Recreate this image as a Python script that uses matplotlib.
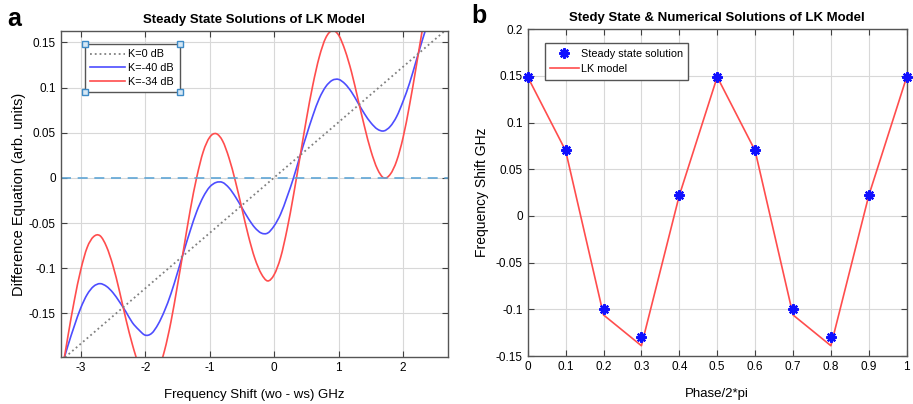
import numpy as np
import matplotlib
matplotlib.use('Agg')
import matplotlib.pyplot as plt
from matplotlib.path import Path
from matplotlib.patches import PathPatch
from matplotlib.lines import Line2D

plt.rcParams['font.family'] = ['Liberation Sans', 'DejaVu Sans']
plt.rcParams['axes.unicode_minus'] = False

# ---- panel a: values ----
shift = [-3.3, -3.2, -3.1, -3.0, -2.9, -2.8, -2.7, -2.6, -2.5, -2.4,
         -2.3, -2.2, -2.1, -2.0, -1.9, -1.8, -1.7, -1.6, -1.5, -1.4,
         -1.3, -1.2, -1.1, -1.0, -0.9, -0.8, -0.7, -0.6, -0.5, -0.4,
         -0.3, -0.2, -0.1, 0.0, 0.1, 0.2, 0.3, 0.4, 0.5, 0.6,
         0.7, 0.8, 0.9, 1.0, 1.1, 1.2, 1.3, 1.4, 1.5, 1.6,
         1.7, 1.8, 1.9, 2.0, 2.1, 2.2, 2.3, 2.4, 2.5, 2.6, 2.7]
k0_x = [-3.3, 2.7]
k0_y = [-0.202, 0.166]
k40 = [-0.210, -0.186, -0.164, -0.144, -0.129, -0.120, -0.117, -0.120, -0.127, -0.137,
       -0.148, -0.160, -0.168, -0.174, -0.172, -0.162, -0.147, -0.128, -0.105, -0.081,
       -0.058, -0.037, -0.021, -0.010, -0.005, -0.005, -0.011, -0.021, -0.033, -0.045,
       -0.055, -0.061, -0.061, -0.053, -0.040, -0.021, 0.000, 0.024, 0.047, 0.069,
       0.088, 0.101, 0.108, 0.109, 0.104, 0.095, 0.083, 0.071, 0.061, 0.054,
       0.052, 0.057, 0.068, 0.085, 0.105, 0.129, 0.153, 0.175, 0.194, 0.209, 0.218]
k34 = [-0.219, -0.176, -0.136, -0.102, -0.077, -0.065, -0.064, -0.076, -0.097, -0.125,
       -0.156, -0.184, -0.207, -0.221, -0.223, -0.213, -0.191, -0.159, -0.119, -0.077,
       -0.035, 0.001, 0.029, 0.045, 0.049, 0.041, 0.022, -0.004, -0.034, -0.064,
       -0.089, -0.106, -0.114, -0.107, -0.088, -0.057, -0.019, 0.023, 0.065, 0.103,
       0.134, 0.155, 0.163, 0.158, 0.141, 0.117, 0.087, 0.057, 0.030, 0.010,
       0.000, 0.004, 0.019, 0.045, 0.081, 0.122, 0.165, 0.205, 0.238, 0.270, 0.300]

# ---- panel b ----
phase = [0, 0.1, 0.2, 0.3, 0.4, 0.5, 0.6, 0.7, 0.8, 0.9, 1.0]
steady = [0.149, 0.071, -0.100, -0.130, 0.022, 0.149, 0.071, -0.100, -0.130, 0.022, 0.149]
lk = [0.149, 0.070, -0.106, -0.139, 0.022, 0.149, 0.070, -0.106, -0.139, 0.022, 0.149]

BLUE = '#4d4dff'
RED = '#ff4d4d'


def smooth_curve(ax, x, y, color):
    # draw the read points as a smooth (Catmull-Rom) bezier path in data coords
    pts = np.column_stack([x, y]).astype(float)
    n = len(pts)
    verts = [pts[0]]
    codes = [Path.MOVETO]
    for i in range(n - 1):
        p0 = pts[max(i - 1, 0)]
        p1 = pts[i]
        p2 = pts[i + 1]
        p3 = pts[min(i + 2, n - 1)]
        verts += [p1 + (p2 - p0) / 6, p2 - (p3 - p1) / 6, p2]
        codes += [Path.CURVE4] * 3
    patch = PathPatch(Path(verts, codes), fill=False, edgecolor=color, lw=1.2)
    ax.add_patch(patch)


fig = plt.figure(figsize=(9.13, 4.04), dpi=100)
ax1 = fig.add_axes([0.0665, 0.1156, 0.4245, 0.8077])
ax2 = fig.add_axes([0.578, 0.1188, 0.4151, 0.8087])


def style(ax):
    ax.grid(True, color='#d8d8d8', lw=0.8)
    ax.set_axisbelow(True)
    ax.tick_params(direction='in', top=True, right=True, length=4,
                   labelsize=8.5, color='#404040')
    for s in ax.spines.values():
        s.set_color('#555555')
        s.set_linewidth(1.0)


# panel a
ax1.plot(k0_x, k0_y, ':', color='#808080', lw=1.3)
smooth_curve(ax1, shift, k40, BLUE)
smooth_curve(ax1, shift, k34, RED)
ax1.axhline(0, color='#5fa6d6', lw=1.2, ls=(0, (6, 4)))
ax1.set_xlim(-3.31, 2.70)
ax1.set_ylim(-0.1985, 0.1626)
ax1.set_xticks([-3, -2, -1, 0, 1, 2])
ax1.set_yticks([-0.15, -0.1, -0.05, 0, 0.05, 0.1, 0.15])
ax1.set_yticklabels(['-0.15', '-0.1', '-0.05', '0', '0.05', '0.1', '0.15'])
style(ax1)
ax1.set_title('Steady State Solutions of LK Model', fontsize=9.5, fontweight='bold', pad=6)
ax1.set_xlabel('Frequency Shift (wo - ws) GHz', fontsize=9.5, labelpad=11)
ax1.set_ylabel('Difference Equation (arb. units)', fontsize=10.5, labelpad=2)
handles1 = [Line2D([], [], ls=':', color='#808080', lw=1.3),
            Line2D([], [], color=BLUE, lw=1.2),
            Line2D([], [], color=RED, lw=1.2)]
leg1 = ax1.legend(handles1, ['K=0 dB', 'K=-40 dB', 'K=-34 dB'],
                  loc='upper left', bbox_to_anchor=(0.0627, 0.960), borderaxespad=0,
                  fancybox=False, edgecolor='#555555', fontsize=7.8, handlelength=3.2,
                  handletextpad=0.3, framealpha=1, borderpad=0.5, labelspacing=0.35)
leg1.get_frame().set_linewidth(1.0)

# panel b
ax2.plot(phase, lk, color=RED, lw=1.2, label='LK model', zorder=2)
ax2.plot(phase, steady, ls='none', marker=(8, 2, 0), ms=7.5, mew=1.6, color='#1010ff',
         label='Steady state solution', zorder=3, clip_on=False)
ax2.set_xlim(0, 1)
ax2.set_ylim(-0.15, 0.2)
ax2.set_xticks(phase)
ax2.set_xticklabels(['0', '0.1', '0.2', '0.3', '0.4', '0.5', '0.6', '0.7', '0.8', '0.9', '1'])
ax2.set_yticks([-0.15, -0.1, -0.05, 0, 0.05, 0.1, 0.15, 0.2])
ax2.set_yticklabels(['-0.15', '-0.1', '-0.05', '0', '0.05', '0.1', '0.15', '0.2'])
style(ax2)
ax2.set_title('Stedy State & Numerical Solutions of LK Model', fontsize=9.5,
              fontweight='bold', pad=6)
ax2.set_xlabel('Phase/2*pi', fontsize=9.5, labelpad=11)
ax2.set_ylabel('Frequency Shift GHz', fontsize=10, labelpad=5)
h, l = ax2.get_legend_handles_labels()
leg2 = ax2.legend(h[::-1], l[::-1], loc='upper left', bbox_to_anchor=(0.0456, 0.957),
                  borderaxespad=0, fancybox=False, edgecolor='#555555', fontsize=7.8,
                  handlelength=2.6, handletextpad=0.2, framealpha=1, borderpad=0.5,
                  labelspacing=0.5)
leg2.get_frame().set_linewidth(1.0)

fig.text(0.008, 0.9356, 'a', fontsize=18, fontweight='bold', va='baseline')
fig.text(0.5166, 0.943, 'b', fontsize=18, fontweight='bold', va='baseline')

# selection handles at legend corners (panel a)
fig.canvas.draw()
bb = leg1.get_window_extent().transformed(ax1.transAxes.inverted())
ax1.plot([bb.x0, bb.x1, bb.x0, bb.x1], [bb.y0, bb.y0, bb.y1, bb.y1], ls='none',
         marker='s', ms=5, mfc='#d6e8f5', mec='#3d8ac6', mew=1.0,
         transform=ax1.transAxes, clip_on=False, zorder=10)

fig.savefig('out.png', dpi=100)
